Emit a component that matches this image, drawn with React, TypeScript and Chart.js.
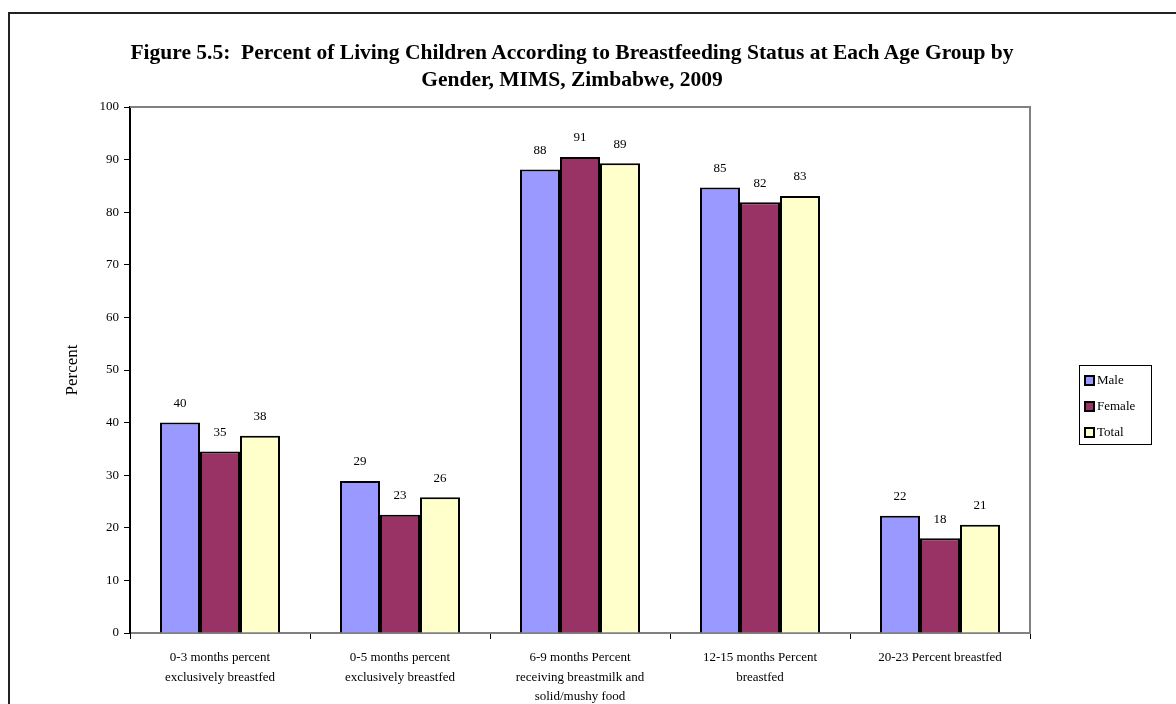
import React, { useEffect, useRef } from "react";
import { Chart, registerables } from "chart.js";

Chart.register(...registerables);

const categories: string[][] = [
  ["0-3 months percent", "exclusively breastfed"],
  ["0-5 months percent", "exclusively breastfed"],
  ["6-9 months Percent", "receiving breastmilk and", "solid/mushy food"],
  ["12-15 months Percent", "breastfed"],
  ["20-23 Percent breastfed"],
];
const seriesNames = ["Male", "Female", "Total"];
const maleValues = [40.0, 28.9, 88.1, 84.7, 22.3];
const femaleValues = [34.5, 22.5, 90.5, 81.9, 18.0];
const totalValues = [37.5, 25.8, 89.3, 83.1, 20.6];
const seriesColors = ["#9999FF", "#993366", "#FFFFCC"];
const yMin = 0;
const yMax = 100;
const yStep = 10;
const titleLines = [
  "Figure 5.5:  Percent of Living Children According to Breastfeeding Status at Each Age Group by",
  "Gender, MIMS, Zimbabwe, 2009",
];
const yTitle = "Percent";

const FONT = '"Liberation Serif", "Times New Roman", Times, serif';

const plotBorder = {
  id: "plotBorder",
  afterDraw(chart: any) {
    const { ctx, chartArea } = chart;
    ctx.save();
    ctx.strokeStyle = "#808080";
    ctx.lineWidth = 2;
    ctx.beginPath();
    ctx.moveTo(chartArea.left, chartArea.top);
    ctx.lineTo(chartArea.right, chartArea.top);
    ctx.lineTo(chartArea.right, chartArea.bottom);
    ctx.stroke();
    ctx.restore();
  },
};

const dataLabels = {
  id: "dataLabels",
  afterDatasetsDraw(chart: any) {
    const { ctx } = chart;
    ctx.save();
    ctx.font = `13px ${FONT}`;
    ctx.fillStyle = "#000";
    ctx.textAlign = "center";
    ctx.textBaseline = "middle";
    chart.data.datasets.forEach((ds: any, i: number) => {
      const meta = chart.getDatasetMeta(i);
      meta.data.forEach((el: any, j: number) => {
        const v = ds.data[j];
        ctx.fillText(String(Math.round(v)), el.x, el.y - 19);
      });
    });
    ctx.restore();
  },
};

export default function App() {
  const canvasRef = useRef<HTMLCanvasElement | null>(null);

  useEffect(() => {
    if (!canvasRef.current) return;
    const valueSets = [maleValues, femaleValues, totalValues];
    const chart = new Chart(canvasRef.current, {
      type: "bar",
      data: {
        labels: categories,
        datasets: seriesNames.map((name, i) => ({
          label: name,
          data: valueSets[i],
          backgroundColor: seriesColors[i],
          borderColor: "#000",
          borderWidth: 2,
          categoryPercentage: 0.6667,
          barPercentage: 1.0,
        })),
      },
      options: {
        animation: false,
        responsive: false,
        devicePixelRatio: 1,
        layout: { padding: { left: 0, right: 146, top: 107, bottom: 0 } },
        plugins: {
          legend: { display: false },
          title: { display: false },
          tooltip: { enabled: false },
        },
        scales: {
          x: {
            afterFit: (scale: any) => {
              scale.height = 71;
            },
            grid: {
              display: true,
              drawOnChartArea: false,
              drawTicks: true,
              tickLength: 6,
              color: "#000",
              offset: true,
            },
            border: { display: true, color: "#808080", width: 2 },
            ticks: {
              color: "#000",
              font: { family: FONT, size: 13, lineHeight: 1.5 },
              padding: 9,
              maxRotation: 0,
              autoSkip: false,
            },
          },
          y: {
            min: yMin,
            max: yMax,
            afterFit: (scale: any) => {
              scale.width = 130;
            },
            grid: {
              display: true,
              drawOnChartArea: false,
              drawTicks: true,
              tickLength: 6,
              color: "#000",
            },
            border: { display: true, color: "#000", width: 2 },
            ticks: {
              stepSize: yStep,
              color: "#000",
              font: { family: FONT, size: 13 },
              padding: 5,
            },
            title: {
              display: true,
              text: yTitle,
              color: "#000",
              font: { family: FONT, size: 17 },
              padding: { top: 62, bottom: 0 },
            },
          },
        },
      },
      plugins: [plotBorder, dataLabels],
    });
    return () => chart.destroy();
  }, []);

  return (
    <div
      style={{
        position: "fixed",
        left: 0,
        top: 0,
        width: 1176,
        height: 704,
        background: "#fff",
        overflow: "hidden",
      }}
    >
      <div
        style={{
          position: "absolute",
          left: 8,
          top: 12,
          width: 1400,
          height: 900,
          borderLeft: "2px solid #222",
          borderTop: "2px solid #222",
        }}
      />
      <canvas
        ref={canvasRef}
        width={1176}
        height={704}
        style={{ position: "absolute", left: 0, top: 0, width: 1176, height: 704 }}
      />
      <div
        style={{
          position: "absolute",
          left: 0,
          top: 39,
          width: 1144,
          textAlign: "center",
          fontFamily: FONT,
          fontWeight: "bold",
          fontSize: 21.5,
          lineHeight: "27px",
          color: "#000",
        }}
      >
        {titleLines.map((t, i) => (
          <div key={i} style={{ whiteSpace: "pre" }}>
            {t}
          </div>
        ))}
      </div>
      <div
        style={{
          position: "absolute",
          left: 1079,
          top: 365,
          width: 71,
          height: 78,
          border: "1px solid #000",
          fontFamily: FONT,
          fontSize: 13,
          color: "#000",
          boxSizing: "content-box",
        }}
      >
        {seriesNames.map((name, i) => (
          <div
            key={name}
            style={{
              position: "absolute",
              left: 4,
              top: 4 + i * 26,
              height: 20,
              display: "flex",
              alignItems: "center",
            }}
          >
            <span
              style={{
                display: "inline-block",
                width: 7,
                height: 7,
                border: "2px solid #000",
                background: seriesColors[i],
                marginRight: 2,
              }}
            />
            <span>{name}</span>
          </div>
        ))}
      </div>
    </div>
  );
}
